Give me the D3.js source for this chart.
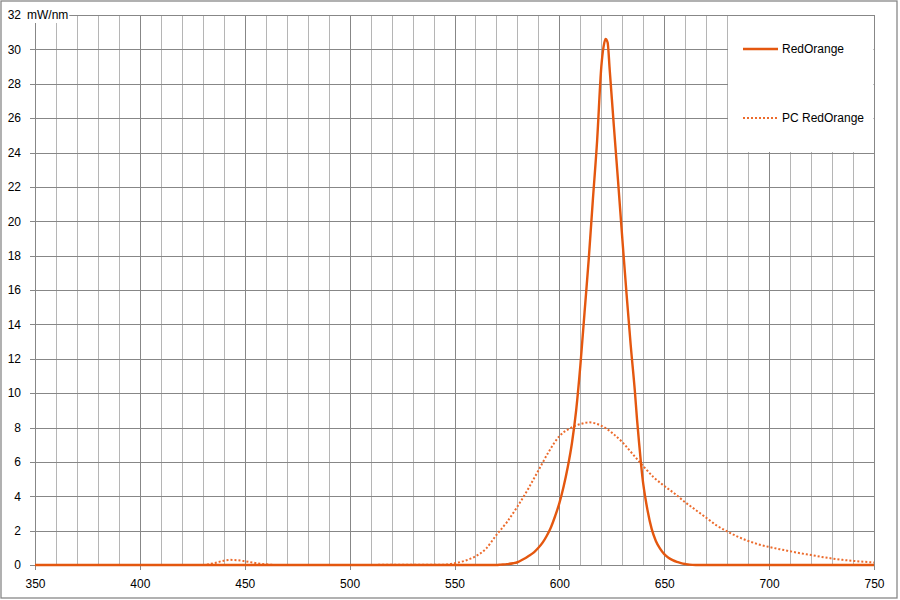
<!DOCTYPE html>
<html>
<head>
<meta charset="utf-8">
<script src="https://cdn.jsdelivr.net/npm/d3@7"></script>
<style>
  html, body { margin: 0; padding: 0; background: #fff; }
  svg { display: block; }
  text { font-family: "Liberation Sans", Arial, sans-serif; font-size: 12px; fill: #000; }
</style>
</head>
<body>
<svg id="chart" width="900" height="600"></svg>
<script>
// ---- data ----
const seriesNames = ["RedOrange", "PC RedOrange"];
const redWl  = [350, 570, 572, 575, 578, 580, 583, 585, 588, 590, 592, 594, 596, 598, 600, 602, 604, 606, 608, 610, 612, 614, 616, 618, 620, 621, 622, 623, 624, 626, 628, 630, 632, 634, 636, 637, 638, 639, 640, 641, 642, 644, 646, 648, 650, 652, 654, 656, 658, 660, 662, 665, 750];
const redVal = [0,   0,   0.02,0.05,0.1, 0.16,0.35,0.5, 0.75,1.0, 1.3, 1.7, 2.2, 2.85,3.6, 4.55,5.7, 7.1, 9.0, 11.6,14.7,17.8,21.3,24.7,29.0,30.1,30.6,30.4,28.8,25.5,22.3,19.0,15.8,12.8,10.1,8.5, 7.1, 5.8, 4.7, 3.9, 3.2, 2.1, 1.4, 0.95,0.63,0.42,0.28,0.18,0.11,0.06,0.02,0,   0];
const pcWl  = [350, 430, 435, 440, 443, 447, 450, 455, 460, 465, 545, 550, 555, 560, 565, 570, 575, 580, 585, 590, 595, 600, 605, 610, 614, 620, 625, 630, 635, 640, 645, 650, 655, 660, 665, 670, 675, 680, 685, 690, 695, 700, 705, 710, 715, 720, 725, 730, 735, 740, 745, 750];
const pcVal = [0,   0,   0.1, 0.25,0.3, 0.27,0.22,0.12,0.04,0,   0.02,0.1, 0.25,0.5, 0.95,1.75,2.5, 3.4, 4.4, 5.5, 6.6, 7.5, 7.95,8.2, 8.3, 8.1, 7.7, 7.15,6.45,5.75,5.1, 4.6, 4.15,3.65,3.2, 2.75,2.3, 1.95,1.65,1.4, 1.2, 1.05,0.92,0.8, 0.68,0.58,0.47,0.38,0.3, 0.24,0.19,0.15];
const xTicks = [350, 400, 450, 500, 550, 600, 650, 700, 750];
const xMinor = d3.range(360, 751, 10);
const yTicks = [0, 2, 4, 6, 8, 10, 12, 14, 16, 18, 20, 22, 24, 26, 28, 30, 32];
const yUnit = "mW/nm";

// ---- layout ----
const svg = d3.select("#chart");
const L = 35, R = 874, T = 15, B = 565;
const x = d3.scaleLinear().domain([350, 750]).range([L, R]);
const y = d3.scaleLinear().domain([0, 32]).range([B, T]);
const colSolid = "#E4570F";
const colDot = "#EC6B2C";
const gridDark = "#878787";
const gridLight = "#b5b5b5";
const FONT = "Liberation Sans, Arial, sans-serif";

// outer border
svg.append("rect").attr("x", 1).attr("y", 1).attr("width", 896).attr("height", 597)
  .attr("fill", "#fff").attr("stroke", gridDark).attr("stroke-width", 1.3);

// minor vertical grid
svg.append("g").selectAll("line").data(xMinor.filter(v => v % 50 !== 0)).join("line")
  .attr("x1", d => Math.round(x(d)) + 0.5).attr("x2", d => Math.round(x(d)) + 0.5)
  .attr("y1", T).attr("y2", B).attr("stroke", gridLight).attr("stroke-width", 1);

// major vertical grid (50 nm) with tick extension
svg.append("g").selectAll("line").data(xTicks).join("line")
  .attr("x1", d => Math.round(x(d)) + 0.5).attr("x2", d => Math.round(x(d)) + 0.5)
  .attr("y1", T).attr("y2", B + 5).attr("stroke", gridDark).attr("stroke-width", 1);

// horizontal grid with tick extension
svg.append("g").selectAll("line").data(yTicks).join("line")
  .attr("x1", L - 5).attr("x2", R)
  .attr("y1", d => Math.round(y(d)) + 0.5).attr("y2", d => Math.round(y(d)) + 0.5)
  .attr("stroke", gridDark).attr("stroke-width", 1);

// axes labels via d3 axes (lines hidden, text kept)
const yAxis = svg.append("g").attr("transform", `translate(${L},0)`)
  .call(d3.axisLeft(y).tickValues(yTicks).tickSize(0).tickPadding(14));
yAxis.select(".domain").remove();
yAxis.selectAll("text").attr("font-family", FONT).attr("font-size", 12).attr("fill", "#000");

const xAxis = svg.append("g").attr("transform", `translate(0,${B})`)
  .call(d3.axisBottom(x).tickValues(xTicks).tickSize(0).tickPadding(14));
xAxis.select(".domain").remove();
xAxis.selectAll("text").attr("font-family", FONT).attr("font-size", 12).attr("fill", "#000");

// unit label with white background
const unitX = 27, unitY = y(32) + 4;
const unitText = svg.append("text").attr("x", unitX).attr("y", unitY).text(yUnit);
const bb = unitText.node().getBBox();
svg.insert("rect", () => unitText.node())
  .attr("x", bb.x - 1).attr("y", bb.y).attr("width", bb.width + 2).attr("height", bb.height + 1)
  .attr("fill", "#fff");

// series
const line = d3.line().x(d => x(d[0])).y(d => y(d[1])).curve(d3.curveMonotoneX);
const pcData = pcWl.map((w, i) => [w, pcVal[i]]);
const redData = redWl.map((w, i) => [w, redVal[i]]);

svg.append("path").datum(pcData).attr("d", line)
  .attr("fill", "none").attr("stroke", colDot).attr("stroke-width", 2)
  .attr("stroke-dasharray", "2,2");
svg.append("path").datum(redData).attr("d", line)
  .attr("fill", "none").attr("stroke", colSolid).attr("stroke-width", 2.4)
  .attr("stroke-linejoin", "round");

// legend
const lg = svg.append("g");
lg.append("rect").attr("x", 728).attr("y", 16).attr("width", 145.5).attr("height", 136)
  .attr("fill", "#fff");
const legItems = [
  { name: seriesNames[0], color: colSolid, dash: null, w: 2.4, yy: 49 },
  { name: seriesNames[1], color: colDot, dash: "2,2", w: 2, yy: 118 }
];
legItems.forEach(it => {
  lg.append("line").attr("x1", 743).attr("x2", 778).attr("y1", it.yy).attr("y2", it.yy)
    .attr("stroke", it.color).attr("stroke-width", it.w)
    .attr("stroke-dasharray", it.dash);
  lg.append("text").attr("x", 782).attr("y", it.yy + 4).text(it.name);
});
</script>
</body>
</html>
